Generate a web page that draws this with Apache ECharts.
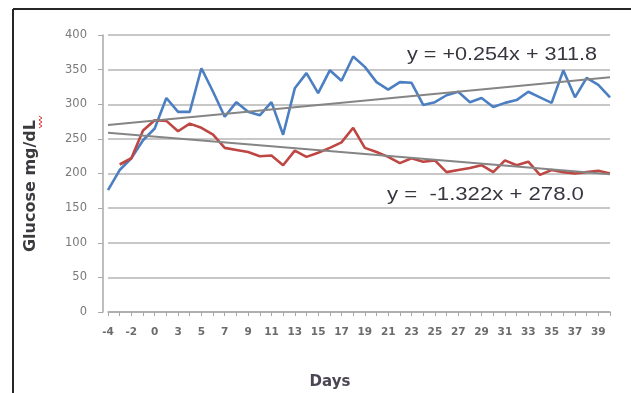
<!DOCTYPE html>
<html>
<head>
<meta charset="utf-8">
<script src="https://cdn.jsdelivr.net/npm/echarts@6/dist/echarts.min.js"></script>
<style>
  html, body { margin: 0; padding: 0; background: #ffffff; }
  #chart { width: 631px; height: 393px; }
</style>
</head>
<body>
<div id="chart"></div>
<script>
// Study days (day 1 has no reading)
const days = ['-4','-3','-2','-1','0','2','3','4','5','6','7','8','9','10','11','12','13','14','15','16',
  '17','18','19','20','21','22','23','24','25','26','27','28','29','30','31','32','33','34','35','36','37','38','39','40'];

// Glucose, mg/dL
const glucoseBlue = [176, 205, 222, 248, 265, 309, 289, 289, 352, 318, 282, 303, 289, 284, 303, 256, 323, 345, 316, 349,
  334, 369, 354, 332, 321, 332, 331, 299, 303, 313, 318, 303, 309, 296, 302, 306, 318, 310, 302, 349, 310, 338, 328, 310];
const glucoseRed = [null, 213, 222, 262, 277, 276, 261, 272, 266, 256, 237, 234, 231, 225, 226, 212, 233, 224, 230, 237,
  245, 266, 237, 231, 224, 215, 222, 217, 219, 202, 205, 208, 212, 202, 219, 212, 217, 198, 205, 202, 200, 202, 204, 200];

// Linear trend lines: value at the first and last day
const blueTrendEnds = [270, 339];
const redTrendEnds = [259, 199];

// Trend equations
const blueEquation = 'y = +0.254x + 311.8';
const redEquation = 'y =  -1.322x + 278.0';

const yTicks = { min: 0, max: 400, step: 50 };

function trendSeriesData(ends) {
  const d = days.map(() => null);
  d[0] = ends[0];
  d[d.length - 1] = ends[1];
  return d;
}

const chart = echarts.init(document.getElementById('chart'), null, { renderer: 'canvas' });

const trendStyle = { color: '#858585', width: 2 };

chart.setOption({
  animation: false,
  backgroundColor: '#ffffff',
  grid: { left: 108, right: 21, top: 35, bottom: 81, containLabel: false },
  xAxis: {
    type: 'category',
    data: days,
    boundaryGap: false,
    axisLine: { lineStyle: { color: '#a8a8a8', width: 1.5 } },
    axisTick: { show: true, interval: 0, length: 4, lineStyle: { color: '#a8a8a8' } },
    axisLabel: {
      interval: 1,
      margin: 15,
      fontFamily: 'DejaVu Sans',
      fontSize: 10.5,
      fontWeight: 'bold',
      color: '#6c6c6c'
    },
    splitLine: { show: false }
  },
  yAxis: {
    type: 'value',
    min: yTicks.min,
    max: yTicks.max,
    interval: yTicks.step,
    offset: 5,
    axisLine: { show: true, lineStyle: { color: '#a8a8a8', width: 1.5 } },
    axisTick: { show: true, length: 5, lineStyle: { color: '#a8a8a8' } },
    axisLabel: {
      margin: 16,
      fontFamily: 'DejaVu Sans',
      fontSize: 11.5,
      color: '#7a7a7a'
    },
    splitLine: { show: true, lineStyle: { color: '#b4b4b4', width: 1.6 } }
  },
  series: [
    {
      name: 'Blue',
      type: 'line',
      data: glucoseBlue,
      symbol: 'none',
      lineStyle: { color: '#4b7fc1', width: 2.6 },
      z: 3
    },
    {
      name: 'Red',
      type: 'line',
      data: glucoseRed,
      symbol: 'none',
      lineStyle: { color: '#be4643', width: 2.6 },
      z: 3
    },
    {
      name: 'Blue trend',
      type: 'line',
      data: trendSeriesData(blueTrendEnds),
      connectNulls: true,
      symbol: 'none',
      lineStyle: trendStyle,
      z: 4
    },
    {
      name: 'Red trend',
      type: 'line',
      data: trendSeriesData(redTrendEnds),
      connectNulls: true,
      symbol: 'none',
      lineStyle: trendStyle,
      z: 4
    }
  ],
  graphic: [
    // frame on the left and top
    { type: 'line', shape: { x1: 13, y1: 9, x2: 13, y2: 393 }, style: { stroke: '#262626', lineWidth: 2 } },
    { type: 'line', shape: { x1: 13, y1: 9, x2: 631, y2: 9 }, style: { stroke: '#262626', lineWidth: 2 } },
    {
      type: 'text', x: 407, y: 55, scaleX: 1.2, z: 10,
      style: { text: blueEquation, x: 0, y: 0, align: 'left', verticalAlign: 'middle',
        font: '18px "Liberation Sans", Arial, sans-serif', fill: '#3a3640' }
    },
    {
      type: 'text', x: 387, y: 195, scaleX: 1.23, z: 10,
      style: { text: redEquation, x: 0, y: 0, align: 'left', verticalAlign: 'middle',
        font: '18px "Liberation Sans", Arial, sans-serif', fill: '#3a3640' }
    },
    {
      type: 'text', x: 31, y: 186, rotation: Math.PI / 2,
      style: { text: 'Glucose mg/dL', x: 0, y: 0, align: 'center', verticalAlign: 'middle',
        font: 'bold 16px "DejaVu Sans", sans-serif', fill: '#3c3a3e' }
    },
    {
      // spell-check squiggle beside "dL"
      type: 'polyline',
      shape: { points: [[39, 116], [42, 118], [39, 120], [42, 122], [39, 124], [42, 126], [39, 128]] },
      style: { stroke: '#e03030', lineWidth: 1, fill: null }
    },
    {
      type: 'text', x: 330, y: 382,
      style: { text: 'Days', x: 0, y: 0, align: 'center', verticalAlign: 'middle',
        font: 'bold 15px "DejaVu Sans", sans-serif', fill: '#4a4654' }
    }
  ]
});
</script>
</body>
</html>
